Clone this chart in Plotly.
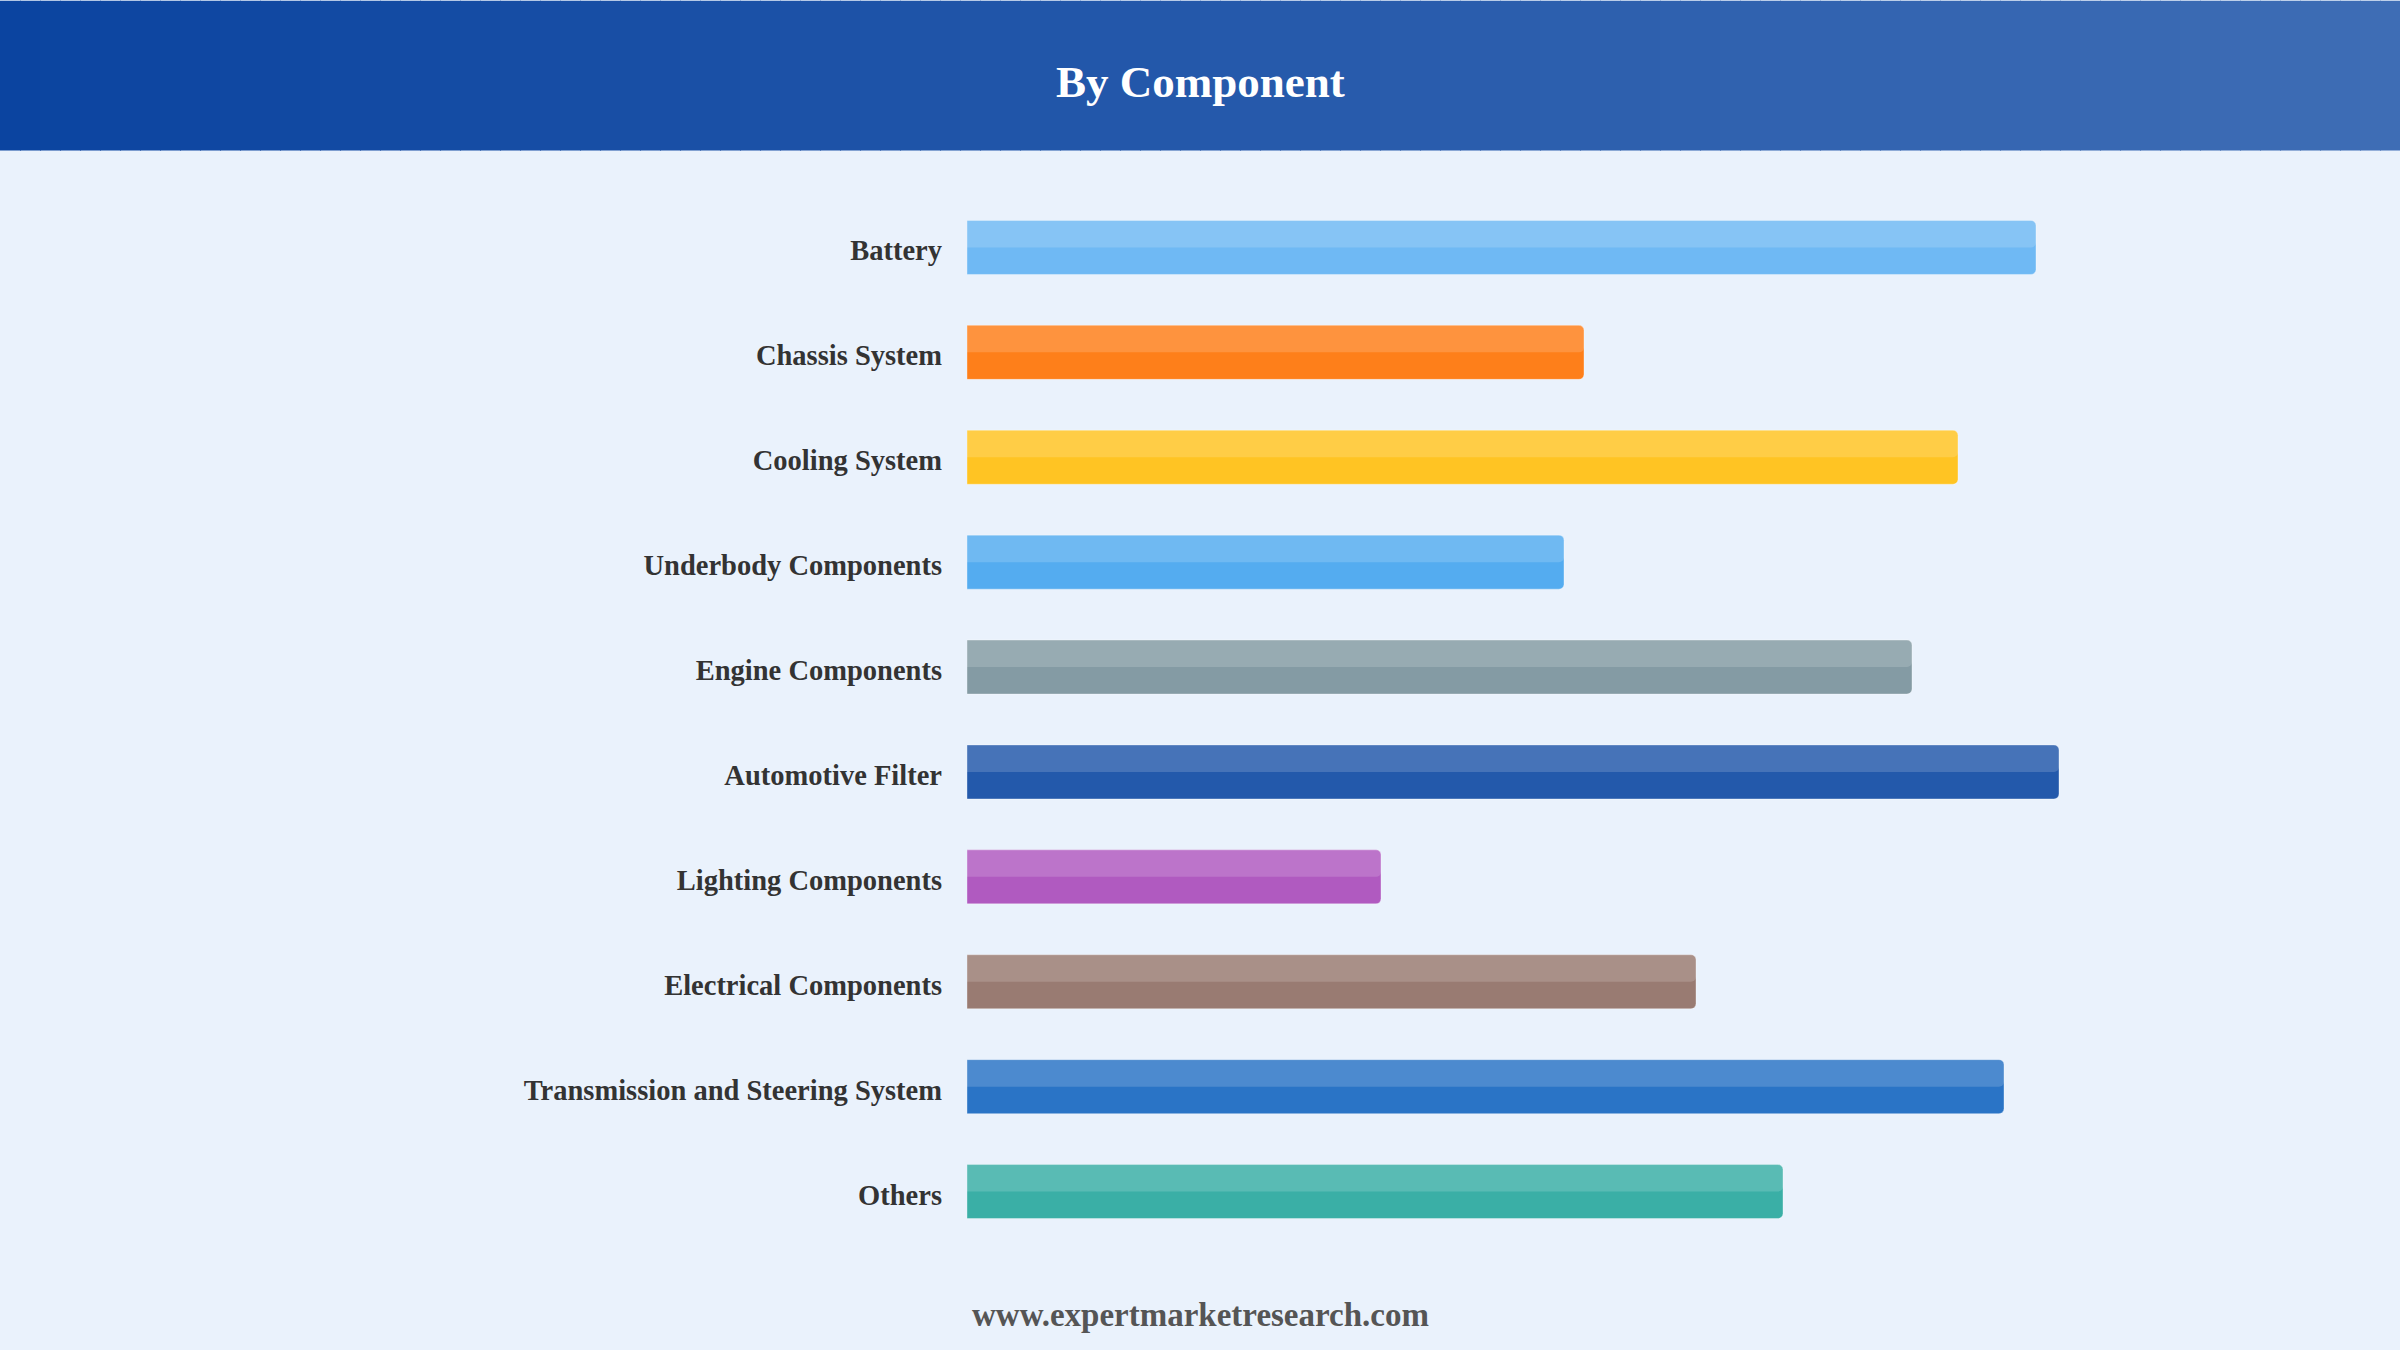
import plotly.graph_objects as go

# ---- data ----
categories = [
    "Battery", "Chassis System", "Cooling System", "Underbody Components",
    "Engine Components", "Automotive Filter", "Lighting Components",
    "Electrical Components", "Transmission and Steering System", "Others",
]
values = [10.69, 6.17, 9.91, 5.97, 9.45, 10.92, 4.14, 7.29, 10.37, 8.16]
colors = ["#6FB9F4", "#FE7F1A", "#FFC423", "#54ACF0", "#849BA4",
          "#2359AB", "#B05AC0", "#997B72", "#2A74C6", "#3AAFA6"]
title_text = "By Component"
footer_text = "www.expertmarketresearch.com"

# ---- layout geometry (pixels) ----
W, H = 2400, 1350
ML, MR, MT, MB = 967, 233, 194.5, 105.5
PW, PH = W - ML - MR, H - MT - MB
HEADER_H = 150
BAR_W = 0.515
FONT = "Liberation Serif, Times New Roman, serif"


def px_x(p):
    return (p - ML) / PW


def px_y(p):  # pixel from top -> paper y
    return (H - MB - p) / PH


fig = go.Figure()
fig.add_trace(go.Bar(
    x=values, y=categories, orientation="h",
    width=BAR_W, offset=-BAR_W / 2,
    marker=dict(color=colors, cornerradius=5,
                line=dict(color="rgba(255,255,255,0.35)", width=1)),
    hoverinfo="x+y", showlegend=False,
))
# glossy top half highlight
fig.add_trace(go.Bar(
    x=values, y=categories, orientation="h",
    width=BAR_W / 2, offset=-BAR_W / 2,
    marker=dict(color="rgba(255,255,255,0.16)", cornerradius=5,
                line=dict(width=0)),
    hoverinfo="skip", showlegend=False,
))

# header gradient band
c0 = (11, 68, 160)
c1 = (62, 109, 181)
N = 120
shapes = []
for i in range(N):
    t = i / (N - 1)
    c = tuple(round(c0[k] + (c1[k] - c0[k]) * t) for k in range(3))
    x0 = W * i / N
    x1 = W * (i + 1) / N + 1
    shapes.append(dict(
        type="rect", xref="paper", yref="paper", layer="below",
        x0=px_x(x0), x1=px_x(x1), y0=px_y(HEADER_H), y1=px_y(0),
        fillcolor="rgb(%d,%d,%d)" % c, line=dict(width=0),
    ))

fig.update_layout(
    width=W, height=H,
    margin=dict(l=ML, r=MR, t=MT, b=MB, pad=0),
    paper_bgcolor="#EAF2FC", plot_bgcolor="rgba(0,0,0,0)",
    barmode="overlay",
    shapes=shapes,
    xaxis=dict(range=[0, PW / 100], visible=False, fixedrange=True),
    yaxis=dict(autorange="reversed", showgrid=False, zeroline=False,
               showline=False, ticks="", ticklabelstandoff=24,
               ticklabelshift=-3,
               tickfont=dict(family=FONT, size=28.5, color="#333333",
                             weight="bold"),
               fixedrange=True),
    annotations=[
        dict(text=title_text, xref="paper", yref="paper",
             x=px_x(W / 2), y=px_y(81), xanchor="center", yanchor="middle",
             showarrow=False,
             font=dict(family=FONT, size=45, color="white", weight="bold")),
        dict(text=footer_text, xref="paper", yref="paper",
             x=px_x(W / 2), y=px_y(1316), xanchor="center", yanchor="middle",
             showarrow=False,
             font=dict(family=FONT, size=33, color="#555555", weight="bold")),
    ],
)

fig.write_html("out.html")
